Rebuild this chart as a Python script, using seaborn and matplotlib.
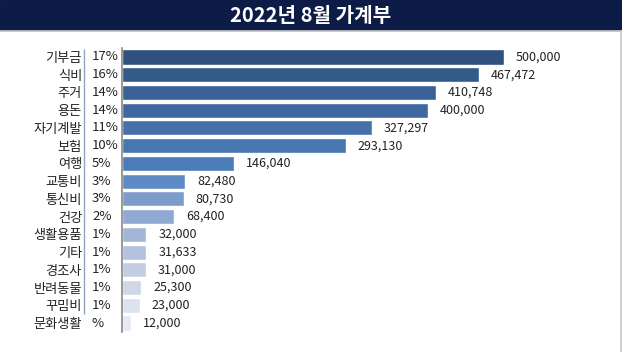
import matplotlib
matplotlib.use('Agg')
import matplotlib.pyplot as plt
import seaborn as sns
import pandas as pd

# 데이터 =====================================================================
categories = ['기부금', '식비', '주거', '용돈', '자기계발', '보험', '여행', '교통비',
              '통신비', '건강', '생활용품', '기타', '경조사', '반려동물', '꾸밈비', '문화생활']
amounts = [500000, 467472, 410748, 400000, 327297, 293130, 146040, 82480,
           80730, 68400, 32000, 31633, 31000, 25300, 23000, 12000]
pct_labels = ['17%', '16%', '14%', '14%', '11%', '10%', '5%', '3%',
              '3%', '2%', '1%', '1%', '1%', '1%', '1%', '%']
bar_colors = ['#30507e', '#345a8a', '#3a6298', '#3f68a0', '#4670aa', '#4876b0',
              '#4a7cb8', '#5f8bc4', '#7d9cc9', '#8fa9d3', '#a4b6d8', '#b3c2df',
              '#c3cee5', '#d0d7e8', '#dce2ef', '#e5e9f3']

df = pd.DataFrame({'항목': categories, '금액': amounts})

sns.set_theme(style='white')
plt.rcParams['font.family'] = ['Noto Sans CJK KR', 'DejaVu Sans']

W, H = 622, 352
fig = plt.figure(figsize=(W / 100, H / 100), dpi=100)

# 제목 띠
fig.patches.append(plt.Rectangle((0, 1 - 30 / H), 1, 30 / H, transform=fig.transFigure,
                                 color='#0d1c46', zorder=0))
fig.lines.append(plt.Line2D([0, 1], [1 - 31 / H, 1 - 31 / H], transform=fig.transFigure,
                            color='#c8c8c8', lw=1.2))
fig.lines.append(plt.Line2D([620.5 / W, 620.5 / W], [0, 1 - 31 / H], transform=fig.transFigure,
                            color='#c8c8c8', lw=1.2))
fig.text(0.5, 1 - 15 / H, '2022년 8월 가계부', color='white', fontsize=14.5,
         fontweight='bold', ha='center', va='center')

# 플롯 영역
left, right = 122, 620
top, bottom = 48.1, 331.9
ax = fig.add_axes([left / W, 1 - bottom / H, (right - left) / W, (bottom - top) / H])

sns.barplot(data=df, x='금액', y='항목', hue='항목', palette=bar_colors,
            legend=False, width=0.85, ax=ax, saturation=1)

xmax = 500000 * (right - left) / 382
ax.set_xlim(0, xmax)
ax.set_ylim(len(categories) - 0.5, -0.5)
ax.set_xlabel('')
ax.set_ylabel('')
ax.set_xticks([])
for s in ['top', 'right', 'bottom']:
    ax.spines[s].set_visible(False)
ax.spines['left'].set_color('#888888')
ax.spines['left'].set_linewidth(1.2)

ax.tick_params(axis='y', length=0, pad=40 * 0.72)
for lab in ax.get_yticklabels():
    lab.set_fontsize(9.5)
    lab.set_color('#222222')

ytr = ax.get_yaxis_transform()
for i, p in enumerate(pct_labels):
    ax.text(-30 / (right - left), i, p, transform=ytr, ha='left', va='center',
            fontsize=9.5, color='#222222')
ax.vlines(-38.5 / (right - left), -0.45, len(categories) - 1.5, transform=ytr,
          color='#90a3c4', lw=1, clip_on=False)

for i, v in enumerate(amounts):
    ax.annotate(f'{v:,}', (v, i), xytext=(12 * 0.72, 0), textcoords='offset points',
                ha='left', va='center', fontsize=9, color='#222222')

fig.savefig('out.png', dpi=100)
